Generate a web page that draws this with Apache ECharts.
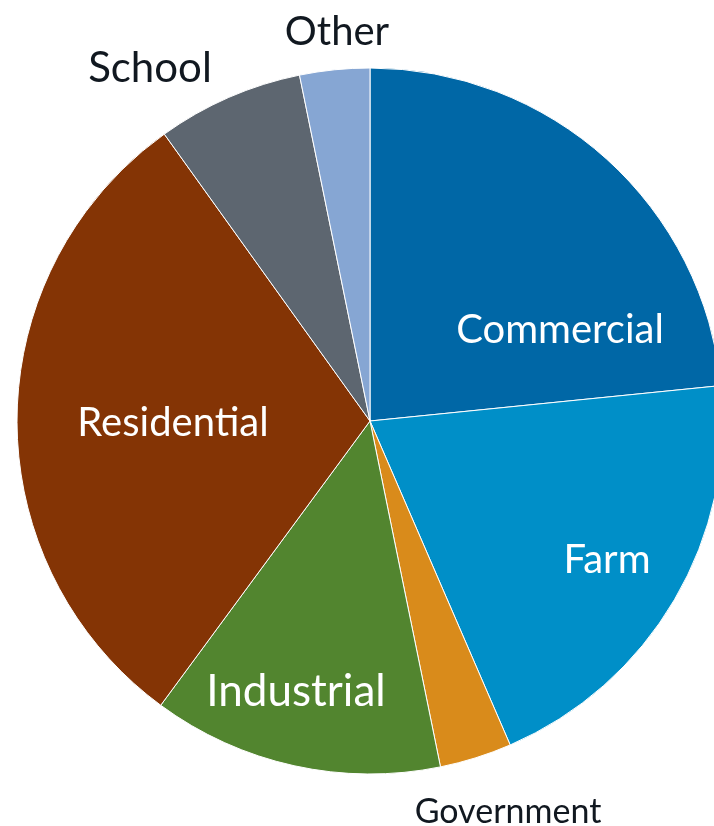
<!DOCTYPE html>
<html>
<head>
<meta charset="utf-8">
<script src="https://cdn.jsdelivr.net/npm/echarts@6/dist/echarts.min.js"></script>
<style>
  html, body { margin: 0; padding: 0; background: #ffffff; }
  #chart { width: 714px; height: 826px; }
</style>
</head>
<body>
<div id="chart"></div>
<script>
// Share of use by sector (percent)
const categories = ['Commercial', 'Farm', 'Government', 'Industrial', 'Residential', 'School', 'Other'];
const shares = [23.4, 20.1, 3.3, 13.3, 30.0, 6.7, 3.2];

// Slice fills and label styling
const sliceColors = ['#0067A6', '#008FC8', '#D98B1B', '#52852F', '#843405', '#5D6670', '#86A6D3'];
const labelColors = ['#ffffff', '#ffffff', '#111820', '#ffffff', '#ffffff', '#111820', '#111820'];
const labelSizes = [40, 40, 34, 44, 40, 42, 40];
// Label anchor points (centre of text)
const labelX = [560, 607, 508, 296, 173, 150, 337];
const labelY = [330, 560, 812, 692, 423, 68, 32];

const chart = echarts.init(document.getElementById('chart'), null, { renderer: 'canvas' });

chart.setOption({
  animation: false,
  backgroundColor: '#ffffff',
  series: [{
    type: 'pie',
    center: [370, 421],
    radius: 353,
    startAngle: 90,
    clockwise: true,
    avoidLabelOverlap: false,
    itemStyle: { borderColor: '#ffffff', borderWidth: 1 },
    labelLine: { show: false },
    emphasis: { disabled: true },
    label: {
      show: true,
      position: 'inside',
      fontFamily: 'Lato',
      formatter: '{b}'
    },
    labelLayout: function (params) {
      const i = params.dataIndex;
      return { x: labelX[i], y: labelY[i], align: 'center', verticalAlign: 'middle' };
    },
    data: categories.map(function (name, i) {
      return {
        name: name,
        value: shares[i],
        itemStyle: { color: sliceColors[i] },
        label: { color: labelColors[i], fontSize: labelSizes[i] }
      };
    })
  }]
});
</script>
</body>
</html>
